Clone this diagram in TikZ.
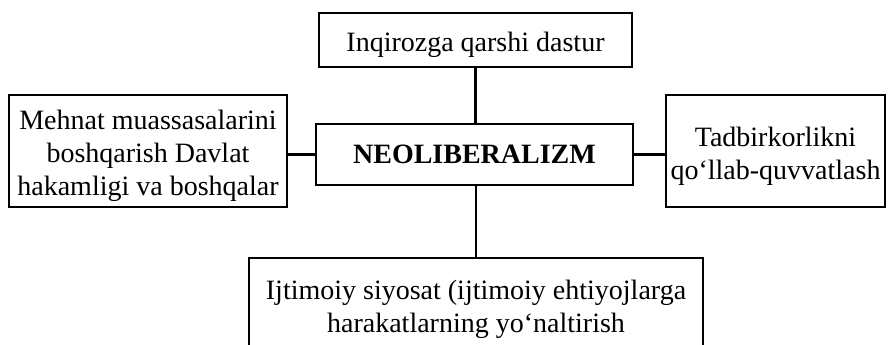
\documentclass[tikz,border=0pt]{standalone}
\usepackage{fontspec}
\setmainfont{Liberation Serif}
\usepackage{tikz}
\newcommand{\boxstrut}{\rule{0pt}{29bp}}

\begin{document}
\begin{tikzpicture}[x=1bp,y=1bp,
    box/.style={draw, line width=2.4bp, inner sep=0pt, align=center,
      font=\fontsize{28bp}{33bp}\selectfont},
    link/.style={line width=2.4bp}]
      \useasboundingbox (0,0) rectangle (889,344);
      \clip (0,0) rectangle (889,344);
      \node [box, minimum width=313bp, minimum height=54bp] (T) at (475.5,304) {\boxstrut Inqirozga qarshi dastur};
      \node [box, minimum width=317bp, minimum height=61bp, font=\fontsize{28bp}{33bp}\selectfont\bfseries] (N) at (474.5,189.5) {NEOLIBERALIZM};
      \node [box, minimum width=278bp, minimum height=112bp] (L) at (148,193) {\boxstrut Mehnat muassasalarini\\boshqarish Davlat\\hakamligi va boshqalar};
      \node [box, minimum width=219bp, minimum height=112bp] (R) at (775.5,193) {\boxstrut Tadbirkorlikni\\qo‘llab-quvvatlash};
      \node [box, minimum width=454bp, minimum height=94bp] (B) at (476,39) {\boxstrut Ijtimoiy siyosat (ijtimoiy ehtiyojlarga\\harakatlarning yo‘naltirish};
      \draw [link] (T.south) to (T.south |- N.north);
      \draw [link] (N.west) to (N.west -| L.east);
      \draw [link] (N.east) to (N.east -| R.west);
      \draw [link] (B.north |- N.south) to (B.north);
    \end{tikzpicture}
\end{document}
